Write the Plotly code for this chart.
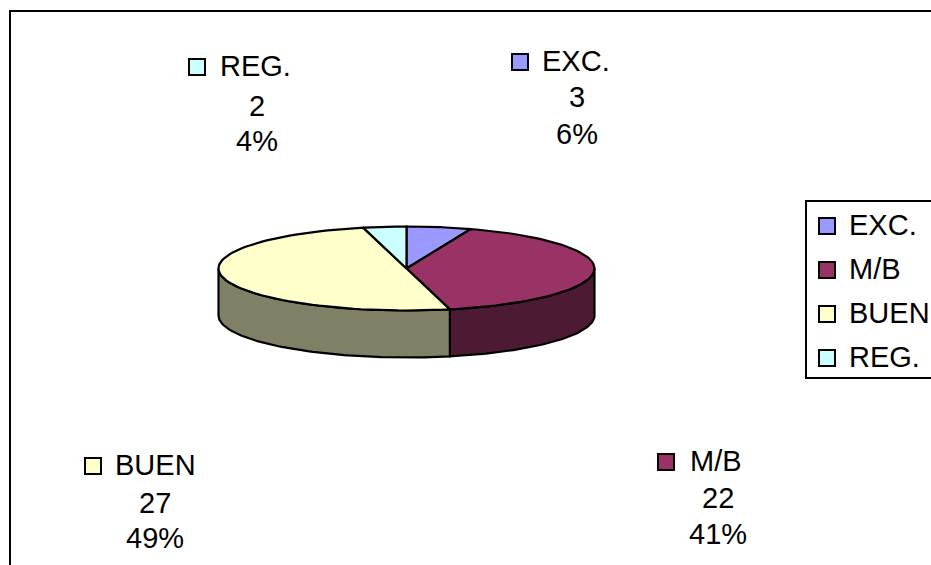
import numpy as np
import plotly.graph_objects as go

categories = ["EXC.", "M/B", "BUEN", "REG."]
counts = [3, 22, 27, 2]
percents = ["6%", "41%", "49%", "4%"]

top_colors = ["#9999FF", "#993366", "#FFFFCC", "#CCFFFF"]
side_colors = ["#4D4D80", "#4D1A33", "#808066", "#668080"]

# pie geometry in page pixels
cx, cy = 406.5, 268.5
rx, ry = 188, 42
depth = 47

# where each data label sits: swatch x, swatch y, text x, value x, value y, percent y
label_pos = [
    (520, 61, 540, 577, 97, 134),
    (666, 461, 688, 718, 498, 534),
    (93, 465, 113, 155, 503, 538),
    (197, 66, 218, 257, 106, 141),
]
legend_x, legend_text_x = 827, 847
legend_y = [225, 269, 313, 357]

FONT = dict(family="Liberation Sans, Arial, sans-serif", size=29, color="#000000")

fractions = np.cumsum([0] + counts) / sum(counts)
angles = fractions * 2 * np.pi


def rim(a0, a1, offset=0):
    t = np.linspace(a0, a1, 80)
    return cx + rx * np.sin(t), cy - ry * np.cos(t) + offset


fig = go.Figure()


def add_poly(x, y, color):
    fig.add_trace(go.Scatter(x=x, y=y, mode="lines", fill="toself", fillcolor=color,
                             line=dict(color="#000000", width=2.2), hoverinfo="skip",
                             showlegend=False))


# side wall, only the front half of the disc can be seen
for i in range(len(categories)):
    a0 = max(angles[i], np.pi / 2)
    a1 = min(angles[i + 1], 3 * np.pi / 2)
    if a1 <= a0:
        continue
    x1, y1 = rim(a0, a1)
    x2, y2 = rim(a1, a0, depth)
    add_poly(np.r_[x1, x2, x1[0]], np.r_[y1, y2, y1[0]], side_colors[i])

# top of the disc
for i in range(len(categories)):
    x1, y1 = rim(angles[i], angles[i + 1])
    add_poly(np.r_[cx, x1, cx], np.r_[cy, y1, cy], top_colors[i])

# swatches for the legend and the data labels
swatch_x = [legend_x] * len(categories) + [p[0] for p in label_pos]
swatch_y = [y + 1 for y in legend_y] + [p[1] + 1 for p in label_pos]
fig.add_trace(go.Scatter(x=swatch_x, y=swatch_y, mode="markers",
                         marker=dict(symbol="square", size=16, color=top_colors * 2,
                                     line=dict(color="#000000", width=2)),
                         hoverinfo="skip", showlegend=False))

annotations = []


def add_text(x, y, text, anchor):
    annotations.append(dict(x=x, y=y, xref="x", yref="y", text=text, showarrow=False,
                            xanchor=anchor, yanchor="middle", font=FONT))


for i, name in enumerate(categories):
    add_text(legend_text_x, legend_y[i], name, "left")
    p = label_pos[i]
    add_text(p[2], p[1], name, "left")
    add_text(p[3], p[4], str(counts[i]), "center")
    add_text(p[3], p[5], percents[i], "center")

shapes = [
    # plot frame, runs off the right and bottom of the page
    dict(type="rect", xref="x", yref="y", x0=10, y0=11, x1=960, y1=600,
         line=dict(color="#000000", width=2), layer="below"),
    # legend box
    dict(type="rect", xref="x", yref="y", x0=806, y0=201, x1=960, y1=378,
         line=dict(color="#000000", width=2), layer="below"),
]

fig.update_layout(
    width=931, height=565,
    margin=dict(l=0, r=0, t=0, b=0),
    paper_bgcolor="#FFFFFF", plot_bgcolor="#FFFFFF",
    xaxis=dict(range=[0, 931], visible=False, fixedrange=True),
    yaxis=dict(range=[565, 0], visible=False, fixedrange=True),
    shapes=shapes,
    annotations=annotations,
    showlegend=False,
)

# the browser's default body margin would push the figure 8px in
fig.write_html("out.html", config=dict(displayModeBar=False),
               post_script="document.body.style.margin='0';document.body.style.overflow='hidden';")
